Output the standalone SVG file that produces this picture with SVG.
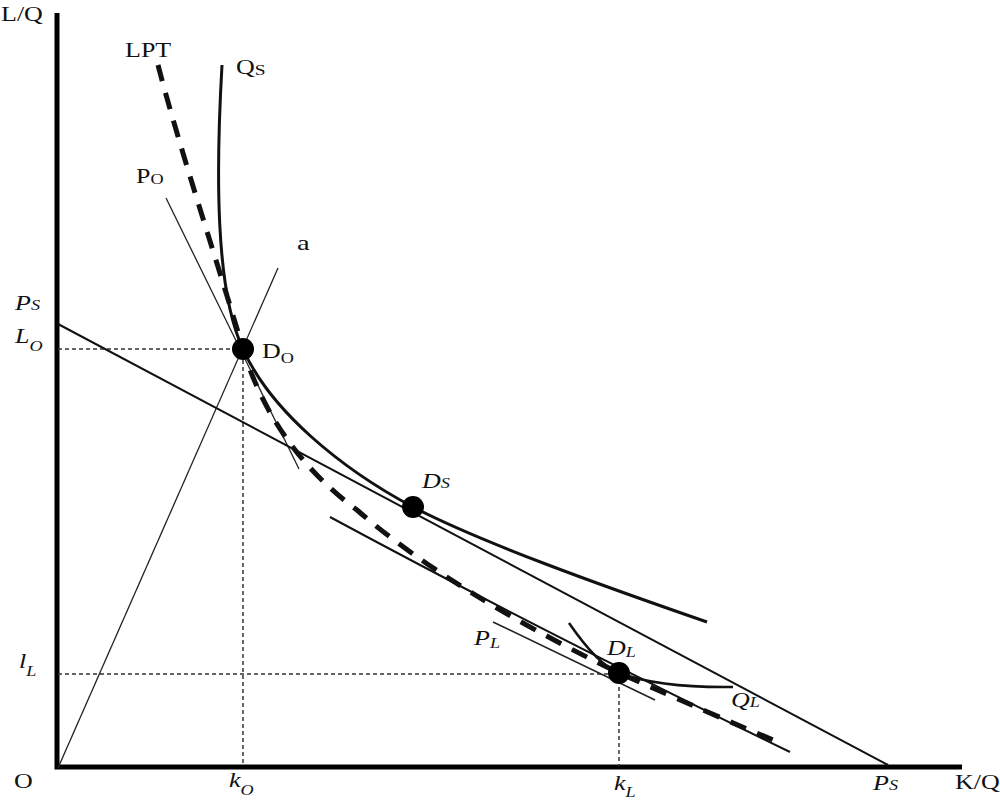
<svg xmlns="http://www.w3.org/2000/svg" width="1000" height="800" viewBox="0 0 1000 800">
<style>
.t{font-family:"Liberation Serif","Times New Roman",serif;font-size:20px;fill:#111}
.i{font-style:italic}
.sub{font-size:14px}
.axis{stroke:#000;stroke-width:5;fill:none}
.thin{stroke:#222;stroke-width:1.3;fill:none}
.line{stroke:#111;stroke-width:2;fill:none}
.curve{stroke:#111;stroke-width:3;fill:none}
.lpt{stroke:#111;stroke-width:5;fill:none;stroke-dasharray:17 12}
.dot{fill:#000}
.guide{stroke:#333;stroke-width:1.5;stroke-dasharray:4 3;fill:none}
</style>
<rect width="1000" height="800" fill="#fff"/>
<g id="axes">
<path class="axis" d="M57,13 V767 H962"/>
<g transform="translate(1,21) scale(1.3,1)"><text class="t">L/Q</text></g>
<g transform="translate(955,789) scale(1.3,1)"><text class="t">K/Q</text></g>
<g transform="translate(14,788) scale(1.3,1)"><text class="t">O</text></g>
<g transform="translate(15,310) scale(1.3,1)"><text class="t i">P<tspan class="sub">S</tspan></text></g>
<g transform="translate(15,343) scale(1.3,1)"><text class="t i">L<tspan class="sub" dy="8">O</tspan></text></g>
<g transform="translate(19,668) scale(1.3,1)"><text class="t i">l<tspan class="sub" dy="8">L</tspan></text></g>
<g transform="translate(229,787) scale(1.3,1)"><text class="t i">k<tspan class="sub" dy="8">O</tspan></text></g>
<g transform="translate(614,790) scale(1.3,1)"><text class="t i">k<tspan class="sub" dy="7">L</tspan></text></g>
<g transform="translate(873,790) scale(1.3,1)"><text class="t i">P<tspan class="sub">S</tspan></text></g>
</g>
<g id="connectors">
<path class="guide" d="M58,349 H243 V766"/>
<path class="guide" d="M58,674 H619 V766"/>
<path class="thin" d="M58,768 L278,268"/>
<path class="thin" d="M166,198 L299,469"/>
<path class="line" d="M58,324 L888,765"/>
<path class="line" d="M330,517 Q530,625 790,752"/>
<path class="thin" style="stroke-width:1.6" d="M493,622 L655,700"/>
<path class="curve" d="M222,65 C216,170 215,290 243,349 C270,410 340,468 413,507 C480,542 600,585 707,622"/>
<path class="lpt" d="M158,65 C180,150 220,270 243,349 C262,412 300,468 357,510 C420,565 510,620 619,673 C680,700 730,722 778,742"/>
<path class="curve" style="stroke-width:2.5" d="M569,623 Q598,665 619,673 Q660,688 733,687"/>
</g>
<g id="label-LPT"><g transform="translate(125,57) scale(1.3,1)"><text class="t">LPT</text></g></g>
<g id="label-QS"><g transform="translate(236,74) scale(1.3,1)"><text class="t">Q<tspan class="sub" style="font-size:15px" dy="1">S</tspan></text></g></g>
<g id="label-PO"><g transform="translate(136,183) scale(1.3,1)"><text class="t">P<tspan class="sub" dy="1">O</tspan></text></g></g>
<g id="label-a"><g transform="translate(297,250) scale(1.3,1)"><text class="t" style="font-size:22px">a</text></g></g>
<g id="label-PL"><g transform="translate(474,645) scale(1.3,1)"><text class="t i">P<tspan class="sub" dy="3">L</tspan></text></g></g>
<g id="label-QL"><g transform="translate(731,707) scale(1.3,1)"><text class="t i">Q<tspan class="sub">L</tspan></text></g></g>
<g id="node-DO">
<circle class="dot" cx="243" cy="349" r="11"/>
<g transform="translate(262,358) scale(1.3,1)"><text class="t">D<tspan class="sub" dy="5">O</tspan></text></g>
</g>
<g id="node-DS">
<circle class="dot" cx="413" cy="507" r="11"/>
<g transform="translate(422,488) scale(1.3,1)"><text class="t i">D<tspan class="sub">S</tspan></text></g>
</g>
<g id="node-DL">
<circle class="dot" cx="619" cy="673" r="11"/>
<g transform="translate(607,655) scale(1.3,1)"><text class="t i">D<tspan class="sub" dy="2">L</tspan></text></g>
</g>
</svg>
